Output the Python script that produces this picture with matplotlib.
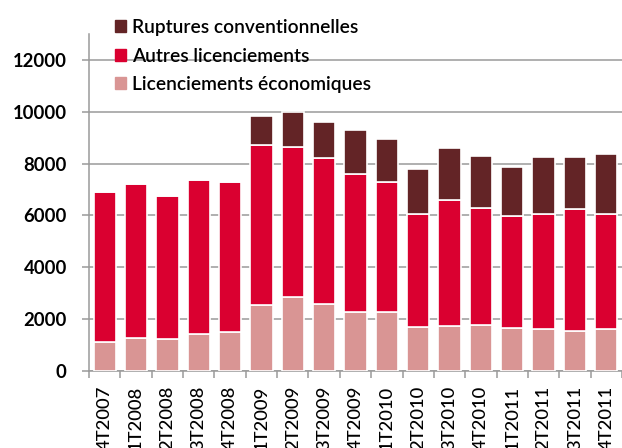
import matplotlib
matplotlib.use("Agg")
import matplotlib.pyplot as plt
import numpy as np
from matplotlib.patches import Patch

# Quarters
quarters = ["4T2007", "1T2008", "2T2008", "3T2008", "4T2008",
            "1T2009", "2T2009", "3T2009", "4T2009",
            "1T2010", "2T2010", "3T2010", "4T2010",
            "1T2011", "2T2011", "3T2011", "4T2011"]

# Values
licenciements_eco = [1100, 1280, 1210, 1420, 1480, 2540, 2860, 2570, 2280,
                     2260, 1680, 1720, 1770, 1660, 1600, 1520, 1600]
autres_licenciements = [5820, 5940, 5530, 5940, 5830, 6170, 5790, 5640, 5310,
                        5020, 4370, 4880, 4510, 4310, 4460, 4720, 4460]
ruptures_conv = [0, 0, 0, 0, 0, 1140, 1340, 1390, 1700,
                 1660, 1760, 2000, 2020, 1890, 2210, 2010, 2320]

yticks = [0, 2000, 4000, 6000, 8000, 10000, 12000]

COL_ECO = "#d99594"
COL_AUTRES = "#da0030"
COL_RUPT = "#632426"
GRID = "#9a9a9a"

plt.rcParams["font.family"] = ["Lato", "DejaVu Sans"]

fig = plt.figure(figsize=(6.22, 4.48), dpi=100)
ax = fig.add_axes([89 / 622, 1 - 370.7 / 448, 1 - 89 / 622, (370.7 - 34.4) / 448])

x = np.arange(len(quarters))
eco = np.array(licenciements_eco)
autres = np.array(autres_licenciements)
rupt = np.array(ruptures_conv)

w = 0.71
kw = dict(width=w, edgecolor="white", linewidth=1.2, zorder=3)
ax.bar(x, eco, color=COL_ECO, **kw)
ax.bar(x, autres, bottom=eco, color=COL_AUTRES, **kw)
ax.bar(x, rupt, bottom=eco + autres, color=COL_RUPT, **kw)

ax.set_ylim(0, 13000)
ax.set_xlim(-0.5, 16.44)
ax.set_yticks(yticks)
ax.set_yticklabels([str(v) for v in yticks], fontsize=13.3, fontweight="bold")
ax.yaxis.grid(True, color=GRID, linewidth=1.1, zorder=0)
ax.set_axisbelow(True)

# labels at bar centres, tick marks at category boundaries
ax.set_xticks(x)
ax.set_xticklabels(quarters, rotation=90, fontsize=13.3, fontweight="medium", va="top")
ax.set_xticks(np.arange(-0.5, len(quarters), 1), minor=True)
ax.tick_params(axis="x", which="major", length=0, pad=11)
ax.tick_params(axis="x", which="minor", length=5, width=1.1, color=GRID)
ax.tick_params(axis="y", length=5, width=1.1, color=GRID, pad=11)

for s in ["top", "right"]:
    ax.spines[s].set_visible(False)
for s in ["left", "bottom"]:
    ax.spines[s].set_color(GRID)
    ax.spines[s].set_linewidth(1.1)

handles = [Patch(color=COL_RUPT), Patch(color=COL_AUTRES), Patch(color=COL_ECO)]
labels = ["Ruptures conventionnelles", "Autres licenciements", "Licenciements économiques"]
fig.legend(handles, labels, loc="upper left",
           bbox_to_anchor=(115 / 622, 1 - 19 / 448),
           frameon=False, borderpad=0, borderaxespad=0,
           handlelength=0.58, handleheight=0.58, handletextpad=0.33,
           labelspacing=0.6, prop={"size": 13.8, "weight": "semibold"})

fig.savefig("out.png", dpi=100)
